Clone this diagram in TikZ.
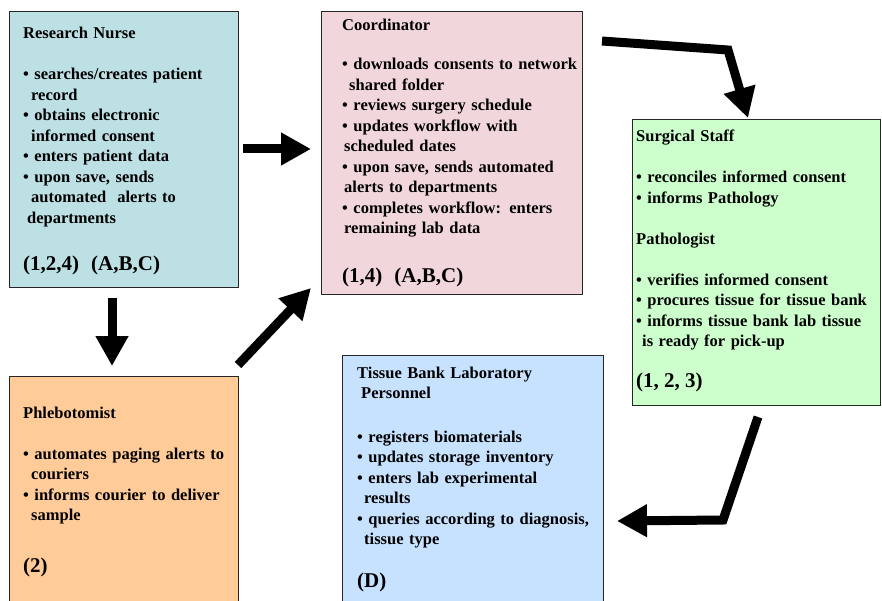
\documentclass[tikz,border=0pt]{standalone}
\usepackage{fontspec}
\setmainfont{Liberation Serif}
\usetikzlibrary{arrows.meta}
\definecolor{rnc}{RGB}{188,224,228}
\definecolor{coc}{RGB}{241,215,220}
\definecolor{suc}{RGB}{204,255,204}
\definecolor{phc}{RGB}{255,204,153}
\definecolor{tbc}{RGB}{199,226,255}
\begin{document}
\begin{tikzpicture}[x=1pt,y=-1pt,
  box/.style={draw=black!85, line width=1pt, anchor=north west, inner sep=0pt},
  txt/.style={anchor=base west, inner sep=0pt, align=left, text width=320pt, font=\bfseries\fontsize{16.5}{20.5}\selectfont},
  codetxt/.style={anchor=base west, inner sep=0pt, font=\bfseries\fontsize{21}{24}\selectfont},
  fat/.style={line width=9pt, line join=miter, -{Triangle[width=31pt,length=30pt]}}]
\clip (0,0) rectangle (882,601);
% boxes
\node[box, fill=rnc, minimum width=229pt, minimum height=276pt] (rn) at (9,11) {};
\node[box, fill=coc, minimum width=261pt, minimum height=283pt] (co) at (321,11) {};
\node[box, fill=suc, minimum width=248pt, minimum height=286pt] (su) at (632,119) {};
\node[box, fill=phc, minimum width=229pt, minimum height=240pt] (ph) at (9,376) {};
\node[box, fill=tbc, minimum width=261pt, minimum height=260pt] (tb) at (342,355) {};
% texts
\node[txt] (rnt) at (23,39) {Research Nurse\\[20.5pt]
• searches/creates patient\\
\hspace*{8pt}record\\
• obtains electronic\\
\hspace*{8pt}informed consent\\
• enters patient data\\
• upon save, sends\\
\hspace*{8pt}automated\ \ alerts to\\
\hspace*{4pt}departments};
\node[codetxt] (rnc) at (23,270) {(1,2,4)\hspace{12pt}(A,B,C)};

\node[txt] (cot) at (342,31) {Coordinator\\[18.5pt]
• downloads consents to network\\
\hspace*{7pt}shared folder\\
• reviews surgery schedule\\
• updates workflow with\\
\hspace*{2pt}scheduled dates\\
• upon save, sends automated\\
\hspace*{2pt}alerts to departments\\
• completes workflow: enters\\
\hspace*{2pt}remaining lab data};
\node[codetxt] (coc) at (342,283) {(1,4)\hspace{12pt}(A,B,C)};

\node[txt] (sut) at (636,142) {Surgical Staff\\[20.5pt]
• reconciles informed consent\\
• informs Pathology\\[20.5pt]
Pathologist\\[20.5pt]
• verifies informed consent\\
• procures tissue for tissue bank\\
• informs tissue bank lab tissue\\
\hspace*{6pt}is ready for pick-up};
\node[codetxt] (suc) at (636,387) {(1, 2, 3)};

\node[txt] (pht) at (23,418) {Phlebotomist\\[20.5pt]
• automates paging alerts to\\
\hspace*{8pt}couriers\\
• informs courier to deliver\\
\hspace*{8pt}sample};
\node[codetxt] (phc) at (23,572) {(2)};

\node[txt] (tbt) at (357,378) {Tissue Bank Laboratory\\
\hspace*{4pt}Personnel\\[23pt]
• registers biomaterials\\
• updates storage inventory\\
• enters lab experimental\\
\hspace*{7pt}results\\
• queries according to diagnosis,\\
\hspace*{7pt}tissue type};
\node[codetxt] (tbc) at (357,587) {(D)};
% arrows
\coordinate (a1s) at (243,149);
\coordinate (a1e) at (311,149);
\coordinate (a2s) at (112,298);
\coordinate (a2e) at (112,366);
\coordinate (a3s) at (238,365);
\coordinate (a3e) at (311,288);
\coordinate (a4s) at (602,41);
\coordinate (a4b) at (728,50);
\coordinate (a4e) at (748,118);
\coordinate (a5s) at (758,417);
\coordinate (a5b) at (723,520);
\coordinate (a5e) at (617,521);
\draw[fat] (a1s) -- (a1e);
\draw[fat] (a2s) -- (a2e);
\draw[fat] (a3s) -- (a3e);
\draw[fat] (a4s) -- (a4b) -- (a4e);
\draw[fat] (a5s) -- (a5b) -- (a5e);
\end{tikzpicture}
\end{document}
